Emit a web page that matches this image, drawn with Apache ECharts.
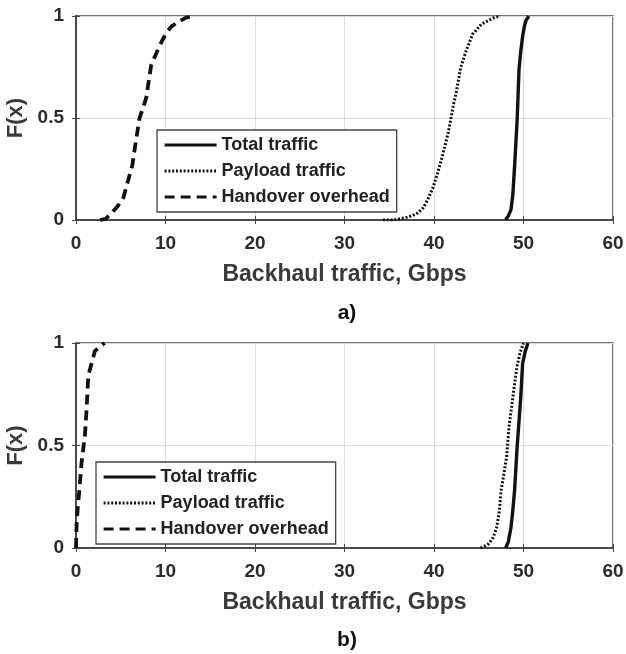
<!DOCTYPE html>
<html>
<head>
<meta charset="utf-8">
<script src="https://cdn.jsdelivr.net/npm/echarts@6/dist/echarts.min.js"></script>
<style>
html,body{margin:0;padding:0;background:#fff;}
#chart{width:626px;height:654px;}
</style>
</head>
<body>
<div id="chart"></div>
<script>
// ---- data ----
var seriesNames = ['Total traffic', 'Payload traffic', 'Handover overhead'];
var xTicks = [0, 10, 20, 30, 40, 50, 60];
var yTicks = [0, 0.5, 1];

// panel a)
var aTotalX = [48.0, 48.3, 48.6, 48.8, 49.0, 49.15, 49.3, 49.4, 49.5, 49.7, 49.9, 50.1, 50.3, 50.6];
var aTotalF = [0, 0.02, 0.05, 0.12, 0.26, 0.38, 0.5, 0.62, 0.74, 0.83, 0.9, 0.95, 0.98, 1];
var aPayloadX = [34.3, 35.5, 36.7, 37.5, 38.2, 38.8, 39.3, 39.9, 40.4, 40.8, 41.2, 41.6, 41.9, 42.2, 42.5, 43.0, 43.6, 44.3, 45.3, 46.6, 47.4];
var aPayloadF = [0, 0, 0.01, 0.02, 0.035, 0.06, 0.1, 0.16, 0.23, 0.29, 0.36, 0.43, 0.5, 0.57, 0.63, 0.75, 0.83, 0.91, 0.96, 0.99, 1];
var aHandoverX = [2.7, 3.3, 4.1, 4.7, 5.3, 5.8, 6.3, 6.6, 7.1, 7.5, 7.85, 8.4, 8.8, 9.3, 10.1, 10.7, 11.4, 12.2, 13.0];
var aHandoverF = [0, 0.005, 0.04, 0.07, 0.11, 0.19, 0.27, 0.36, 0.5, 0.55, 0.6, 0.76, 0.8, 0.85, 0.92, 0.95, 0.97, 0.99, 1];

// panel b)
var bTotalX = [48.0, 48.3, 48.6, 48.8, 49.0, 49.15, 49.3, 49.5, 49.7, 49.9, 50.2, 50.5];
var bTotalF = [0, 0.03, 0.1, 0.18, 0.28, 0.39, 0.5, 0.62, 0.74, 0.9, 0.96, 1];
var bPayloadX = [45.2, 45.7, 46.1, 46.6, 47.0, 47.3, 47.5, 47.8, 48.1, 48.4, 48.8, 49.0, 49.3, 49.6, 50.0];
var bPayloadF = [0, 0.01, 0.02, 0.05, 0.1, 0.18, 0.28, 0.36, 0.44, 0.6, 0.73, 0.8, 0.89, 0.95, 1];
var bHandoverX = [0, 0.07, 0.2, 0.37, 0.63, 0.8, 1.0, 1.2, 1.37, 1.74, 2.1, 2.6, 3.2];
var bHandoverF = [0, 0.12, 0.2, 0.28, 0.42, 0.48, 0.55, 0.69, 0.84, 0.9, 0.96, 0.98, 1];

function pairs(xs, fs) { return xs.map(function (x, i) { return [x, fs[i]]; }); }

var FONT = 'Liberation Sans';
var TXT = '#2b2b2b';
var styles = {
  'Total traffic': { color: '#111', width: 3.4, type: 'solid' },
  'Payload traffic': { color: '#111', width: 3, type: [2, 1.8] },
  'Handover overhead': { color: '#111', width: 3.8, type: [10, 6] }
};

var grids = [
  { left: 76, right: 13, top: 16, height: 204, outerBoundsMode: 'none', containLabel: false, show: true, borderColor: '#444', borderWidth: 1.5, backgroundColor: '#fff' },
  { left: 76, right: 13, top: 343, height: 205, outerBoundsMode: 'none', containLabel: false, show: true, borderColor: '#444', borderWidth: 1.5, backgroundColor: '#fff' }
];

function mkX(gi, top) {
  return {
    type: 'value', gridIndex: gi, min: 0, max: 60, interval: 10,
    position: top ? 'top' : 'bottom',
    name: top ? '' : 'Backhaul traffic, Gbps',
    nameLocation: 'middle', nameGap: 43,
    nameTextStyle: { fontFamily: FONT, fontWeight: 'bold', fontSize: 23, color: '#3a3a3a' },
    axisLine: { show: true, lineStyle: { color: '#444', width: 1.5 } },
    axisTick: { show: true, inside: true, length: 4, lineStyle: { color: '#444' } },
    axisLabel: { show: !top, margin: 14, fontFamily: FONT, fontWeight: 'bold', fontSize: 19, color: TXT },
    splitLine: { show: !top, lineStyle: { color: '#dcdcdc', width: 1 } }
  };
}
function mkY(gi, right) {
  return {
    type: 'value', gridIndex: gi, min: 0, max: 1, interval: 0.5,
    position: right ? 'right' : 'left',
    name: right ? '' : 'F(x)',
    nameLocation: 'middle', nameGap: 44, nameRotate: 90,
    nameTextStyle: { fontFamily: FONT, fontWeight: 'bold', fontSize: 22, color: '#3a3a3a' },
    axisLine: { show: true, lineStyle: { color: '#444', width: 1.5 } },
    axisTick: { show: true, inside: true, length: 4, lineStyle: { color: '#444' } },
    axisLabel: { show: !right, margin: 12, fontFamily: FONT, fontWeight: 'bold', fontSize: 19, color: TXT,
      formatter: function (v) { return yTicks.indexOf(v) >= 0 ? String(v) : ''; } },
    splitLine: { show: !right, lineStyle: { color: '#dcdcdc', width: 1 } }
  };
}

function mkSeries(name, data, gi) {
  var s = styles[name];
  return {
    name: name, type: 'line', xAxisIndex: gi * 2, yAxisIndex: gi * 2,
    data: data, symbol: 'none', showSymbol: false, animation: false,
    lineStyle: { color: s.color, width: s.width, type: s.type },
    itemStyle: { color: s.color },
    z: 3
  };
}

function mkLegend(left, top, w) {
  return {
    orient: 'vertical', left: left, top: top,
    data: seriesNames,
    itemWidth: w, itemHeight: 18, itemGap: 8,
    padding: [6, 7, 6, 6],
    backgroundColor: '#fff', borderColor: '#444', borderWidth: 1.3,
    selectedMode: false,
    itemStyle: { opacity: 0 },
    lineStyle: { width: 3.2 },
    textStyle: { fontFamily: FONT, fontWeight: 'bold', fontSize: 18, color: '#222' },
    z: 10
  };
}

var option = {
  backgroundColor: '#fff',
  animation: false,
  grid: grids,
  xAxis: [mkX(0, false), mkX(0, true), mkX(1, false), mkX(1, true)],
  yAxis: [mkY(0, false), mkY(0, true), mkY(1, false), mkY(1, true)],
  legend: [mkLegend(157, 130, 52), mkLegend(96, 462, 52)],
  series: [
    mkSeries('Total traffic', pairs(aTotalX, aTotalF), 0),
    mkSeries('Payload traffic', pairs(aPayloadX, aPayloadF), 0),
    mkSeries('Handover overhead', pairs(aHandoverX, aHandoverF), 0),
    mkSeries('Total traffic', pairs(bTotalX, bTotalF), 1),
    mkSeries('Payload traffic', pairs(bPayloadX, bPayloadF), 1),
    mkSeries('Handover overhead', pairs(bHandoverX, bHandoverF), 1)
  ],
  graphic: [
    { type: 'text', x: 347, y: 313, style: { text: 'a)', align: 'center', verticalAlign: 'middle', fontFamily: FONT, fontWeight: 'bold', fontSize: 21, fill: '#111' } },
    { type: 'text', x: 347, y: 640, style: { text: 'b)', align: 'center', verticalAlign: 'middle', fontFamily: FONT, fontWeight: 'bold', fontSize: 21, fill: '#111' } }
  ]
};

var chart = echarts.init(document.getElementById('chart'), null, { renderer: 'canvas' });
chart.setOption(option);
</script>
</body>
</html>
